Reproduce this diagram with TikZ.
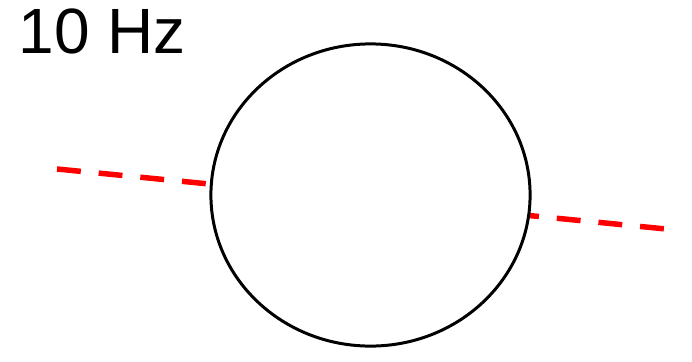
\documentclass[tikz,border=0pt]{standalone}
\usepackage{fontspec}
\setmainfont{Liberation Sans}
\usetikzlibrary{shapes.geometric}
\tikzset{
  signal/.style={red,line width=1.56pt,dash pattern=on 6.8pt off 5.1pt},
  blob/.style={ellipse,draw,line width=0.85pt,fill=white,
    minimum width=3.19cm,minimum height=3.02cm,inner sep=0pt}
}
\begin{document}
\begin{tikzpicture}[x=0.01cm,y=-0.01cm]
\useasboundingbox (0,0) rectangle (692,361);
\coordinate (in) at (57,169);
\coordinate (out) at (666,229);
\draw[signal] (in)--(out);
    %the circle sits on top of the line
\node[blob] (cell) at (370.5,195) {};
\node[anchor=base west,inner sep=0pt,font=\fontsize{18.2}{20}\selectfont] (freq) at (18,54) {10 Hz};
\end{tikzpicture}
\end{document}
